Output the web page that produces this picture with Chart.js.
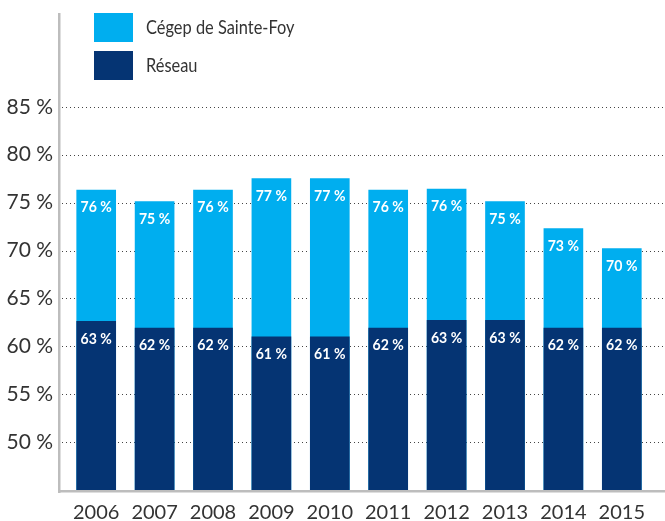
<!DOCTYPE html>
<html>
<head>
<meta charset="utf-8">
<script src="https://cdn.jsdelivr.net/npm/chart.js@4"></script>
<style>
  body { margin: 0; background: #fff; }
  #wrap { position: relative; width: 665px; height: 521px; }
  .legend { position: absolute; left: 94px; font: 20px Lato, sans-serif; color: #333; }
  .legend span.box { position: absolute; left: 0; top: 0; width: 39px; height: 29px; }
  .legend span.txt { position: absolute; left: 52px; top: 1px; white-space: nowrap; transform: scaleX(0.82); transform-origin: left center; }
</style>
</head>
<body>
<div id="wrap">
  <canvas id="chart" width="665" height="521"></canvas>
  <div class="legend" style="top:13px"><span class="box" style="background:#00AEEF"></span><span class="txt">Cégep de Sainte-Foy</span></div>
  <div class="legend" style="top:51px"><span class="box" style="background:#053473"></span><span class="txt">Réseau</span></div>
</div>
<script>
// data
const years = ["2006", "2007", "2008", "2009", "2010", "2011", "2012", "2013", "2014", "2015"];
const cegep = [76.3, 75.1, 76.3, 77.5, 77.5, 76.3, 76.4, 75.1, 72.3, 70.2];
const reseau = [62.6, 61.9, 61.9, 61.0, 61.0, 61.9, 62.7, 62.7, 61.9, 61.9];
const cegepLabels = [76, 75, 76, 77, 77, 76, 76, 75, 73, 70];
const reseauLabels = [63, 62, 62, 61, 61, 62, 63, 63, 62, 62];

const tickFont = "Lato, sans-serif";

// dotted grid and grey axis lines, drawn past the plot edges like the original
const frame = {
    id: "frame",
    beforeDatasetsDraw(chart) {
        const ctx = chart.ctx, y = chart.scales.y;
        ctx.save();
        ctx.strokeStyle = "#444";
        ctx.lineWidth = 1;
        ctx.setLineDash([1, 3]);
        y.ticks.forEach(t => {
            if (t.value < 50 || t.value > 85) return;
            const py = Math.round(y.getPixelForValue(t.value)) + 0.5;
            ctx.beginPath();
            ctx.moveTo(62, py);
            ctx.lineTo(chart.width, py);
            ctx.stroke();
        });
        ctx.restore();
    },
    afterDatasetsDraw(chart) {
        const ctx = chart.ctx, area = chart.chartArea;
        ctx.save();
        ctx.fillStyle = "#bdbdbd";
        ctx.fillRect(58, 13, 2.5, area.bottom - 13 + 3);
        ctx.fillRect(58, area.bottom, chart.width - 58, 2.5);
        ctx.restore();
    }
};

// value labels inside the top of each bar (a bit condensed, like the original font)
const barLabels = {
    id: "barLabels",
    afterDatasetsDraw(chart) {
        const ctx = chart.ctx;
        chart.data.datasets.forEach((ds, i) => {
            chart.getDatasetMeta(i).data.forEach((bar, j) => {
                ctx.save();
                ctx.fillStyle = "#fff";
                ctx.font = "bold 16px " + tickFont;
                ctx.textAlign = "center";
                ctx.textBaseline = "top";
                ctx.translate(bar.x, bar.y + 9);
                ctx.scale(0.88, 1);
                ctx.fillText(ds.valueLabels[j] + "\u202f%", 0, 0);
                ctx.restore();
            });
        });
    }
};

new Chart(document.getElementById("chart"), {
    type: "bar",
    data: {
        labels: years,
        datasets: [
            { label: "Réseau", data: reseau, valueLabels: reseauLabels, backgroundColor: "#053473", barThickness: 39, order: 0 },
            { label: "Cégep de Sainte-Foy", data: cegep, valueLabels: cegepLabels, backgroundColor: "#00AEEF", barThickness: 39, order: 1 }
        ]
    },
    options: {
        responsive: false,
        animation: false,
        layout: { padding: { top: 11, right: 14, left: 0, bottom: 0 } },
        plugins: { legend: { display: false }, tooltip: { enabled: false } },
        scales: {
            x: {
                stacked: true,
                grid: { display: false, drawTicks: false },
                border: { display: false },
                ticks: { color: "#333", font: { family: tickFont, size: 20 }, padding: 11 },
                afterFit(s) { s.height = 31; s.paddingLeft = 0; s.paddingRight = 0; }
            },
            y: {
                min: 45,
                max: 95,
                grid: { display: false, drawTicks: false },
                border: { display: false },
                ticks: {
                    stepSize: 5,
                    color: "#333",
                    padding: 14,
                    font: { family: tickFont, size: 21 },
                    callback: v => (v >= 50 && v <= 85) ? v + "\u202f%" : ""
                },
                afterFit(s) { s.width = 67; s.paddingTop = 0; s.paddingBottom = 0; }
            }
        }
    },
    plugins: [frame, barLabels]
});
</script>
</body>
</html>
